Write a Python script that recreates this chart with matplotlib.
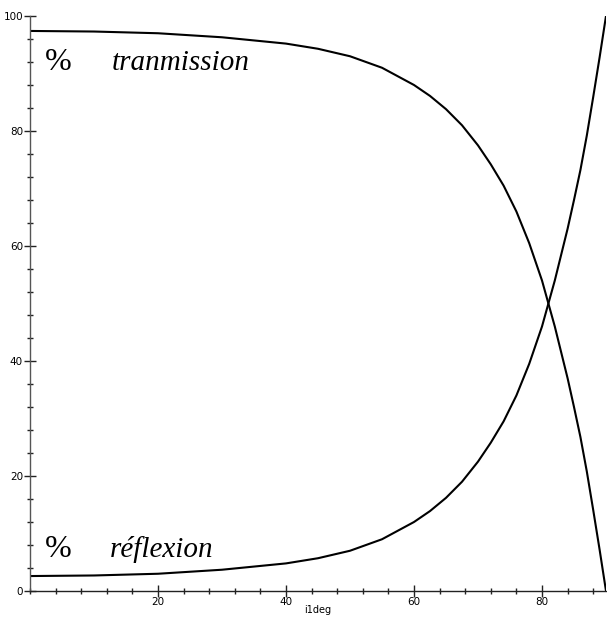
import matplotlib
matplotlib.use("Agg")
import matplotlib.pyplot as plt
from matplotlib.ticker import MultipleLocator

# Incidence angle (degrees) and the reflected / transmitted share (%)
angle_deg = [0, 10, 20, 30, 40, 45, 50, 55, 60, 62.5, 65, 67.5, 70, 72, 74,
             76, 78, 80, 81, 82, 83, 84, 85, 86, 87, 88, 89, 90]
reflexion = [2.6, 2.7, 3.0, 3.7, 4.8, 5.7, 7.0, 9.0, 12.0, 13.9, 16.2, 19.0,
             22.5, 25.8, 29.5, 34.0, 39.5, 46.0, 50.0, 54.0, 58.5, 63.0,
             68.0, 73.2, 79.2, 85.9, 92.8, 100.0]
tranmission = [97.4, 97.3, 97.0, 96.3, 95.2, 94.3, 93.0, 91.0, 88.0, 86.1,
               83.8, 81.0, 77.5, 74.2, 70.5, 66.0, 60.5, 54.0, 50.0, 46.0,
               41.5, 37.0, 32.0, 26.8, 20.8, 14.1, 7.2, 0.0]

x_ticks = [20, 40, 60, 80]
y_ticks = [0, 20, 40, 60, 80, 100]

fig = plt.figure(figsize=(6.07, 6.28), dpi=100)
ax = fig.add_axes([30 / 607, 37 / 628, 576 / 607, 575 / 628])

ax.plot(angle_deg, tranmission, color="black", lw=1.5, solid_joinstyle="round")
ax.plot(angle_deg, reflexion, color="black", lw=1.5, solid_joinstyle="round")

ax.set_xlim(0, 90)
ax.set_ylim(0, 100)

for side in ("top", "right"):
    ax.spines[side].set_visible(False)
ax.spines["left"].set_color("#555555")
ax.spines["bottom"].set_color("#222222")
for side in ("left", "bottom"):
    ax.spines[side].set_linewidth(1.0)

ax.set_xticks(x_ticks)
ax.set_yticks(y_ticks)
ax.xaxis.set_minor_locator(MultipleLocator(4))
ax.yaxis.set_minor_locator(MultipleLocator(4))
ax.tick_params(which="major", direction="inout", length=8, width=1.0,
               labelsize=7.5, color="#222222", pad=1)
ax.tick_params(axis="x", which="major", pad=0)
ax.tick_params(which="minor", direction="inout", length=5, width=1.0,
               color="#222222")
ax.set_xlabel("i1deg", fontsize=7, labelpad=-1)

serif = ["Liberation Serif", "DejaVu Serif"]
fig.text(45 / 607, 1 - 70 / 628, "%", fontsize=23, family=serif)
fig.text(112 / 607, 1 - 70 / 628, "tranmission", fontsize=21, family=serif,
         style="italic")
fig.text(45 / 607, 1 - 557 / 628, "%", fontsize=23, family=serif)
fig.text(110 / 607, 1 - 557 / 628, "réflexion", fontsize=21, family=serif,
         style="italic")

fig.savefig("out.png", dpi=100, facecolor="white")
